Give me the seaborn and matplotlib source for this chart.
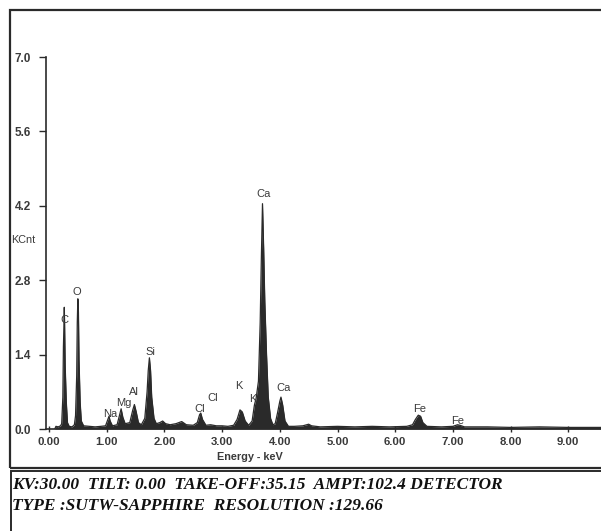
"""
EDS spectrum (KCnt vs Energy - keV) redrawn with seaborn / matplotlib.
"""

import matplotlib
matplotlib.use("Agg")
import matplotlib.pyplot as plt
import matplotlib.patches as mpatches
import seaborn as sns

sns.set_theme(style="white")
plt.rcParams["font.family"] = ["Liberation Sans", "DejaVu Sans"]

# ──────────────────────────────────────────────
# spectrum outline (keV, KCnt)
energy = [0.10, 0.12, 0.16, 0.20, 0.22, 0.24, 0.25, 0.26, 0.265, 0.27, 0.28,
          0.30, 0.32, 0.35, 0.40, 0.44, 0.46, 0.48, 0.49, 0.50, 0.51, 0.52,
          0.54, 0.56, 0.60, 0.70, 0.80, 0.90, 0.98, 1.02, 1.04, 1.06, 1.10,
          1.18, 1.22, 1.25, 1.28, 1.32, 1.40, 1.45, 1.48, 1.51, 1.55, 1.60,
          1.66, 1.70, 1.72, 1.74, 1.76, 1.78, 1.82, 1.86, 1.92, 1.97, 2.02,
          2.10, 2.20, 2.30, 2.38, 2.50, 2.57, 2.61, 2.63, 2.66, 2.72, 2.80,
          2.90, 3.00, 3.10, 3.20, 3.26, 3.31, 3.35, 3.40, 3.46, 3.52, 3.56,
          3.59, 3.63, 3.66, 3.68, 3.70, 3.72, 3.74, 3.77, 3.80, 3.84, 3.88,
          3.92, 3.96, 4.00, 4.02, 4.05, 4.09, 4.15, 4.25, 4.40, 4.50, 4.55,
          4.70, 5.00, 5.30, 5.60, 5.90, 6.20, 6.30, 6.35, 6.40, 6.44, 6.48,
          6.55, 6.80, 7.00, 7.08, 7.12, 7.20, 7.60, 8.00, 8.50, 9.00, 9.60]
counts = [0.00, 0.05, 0.04, 0.06, 0.10, 0.60, 1.55, 2.00, 2.29, 2.00, 1.20,
          0.50, 0.12, 0.05, 0.04, 0.08, 0.25, 1.00, 2.00, 2.45, 2.20, 1.30,
          0.50, 0.15, 0.06, 0.05, 0.04, 0.05, 0.06, 0.18, 0.24, 0.15, 0.06,
          0.08, 0.25, 0.38, 0.22, 0.10, 0.12, 0.35, 0.46, 0.33, 0.12, 0.08,
          0.20, 0.70, 1.10, 1.34, 1.10, 0.60, 0.20, 0.10, 0.12, 0.15, 0.10,
          0.08, 0.10, 0.14, 0.08, 0.07, 0.12, 0.27, 0.30, 0.18, 0.07, 0.08,
          0.06, 0.06, 0.05, 0.07, 0.18, 0.36, 0.32, 0.15, 0.07, 0.15, 0.45,
          0.58, 0.90, 2.00, 3.20, 4.24, 3.40, 2.40, 1.40, 0.60, 0.20, 0.08,
          0.10, 0.30, 0.52, 0.60, 0.45, 0.15, 0.05, 0.05, 0.06, 0.09, 0.06,
          0.04, 0.05, 0.04, 0.05, 0.04, 0.05, 0.08, 0.18, 0.26, 0.24, 0.12,
          0.05, 0.04, 0.05, 0.08, 0.07, 0.04, 0.04, 0.03, 0.04, 0.03, 0.03]

# element labels (text, keV, KCnt)
peak_names = ["C", "O", "Na", "Mg", "Al", "Si", "Cl", "Cl", "K", "K", "Ca", "Ca", "Fe", "Fe"]
peak_x     = [0.26, 0.49, 1.06, 1.30, 1.47, 1.75, 2.62, 2.83, 3.29, 3.53, 3.71, 4.06, 6.43, 7.09]
peak_y     = [2.06, 2.57, 0.28, 0.49, 0.70, 1.44, 0.38, 0.59, 0.81, 0.57, 4.42, 0.77, 0.38, 0.15]

y_ticks = [0.0, 1.4, 2.8, 4.2, 5.6, 7.0]
x_ticks = [0, 1, 2, 3, 4, 5, 6, 7, 8, 9]

info_lines = ["KV:30.00  TILT: 0.00  TAKE-OFF:35.15  AMPT:102.4 DETECTOR",
              "TYPE :SUTW-SAPPHIRE  RESOLUTION :129.66"]

INK = "#2a2a2a"
LABEL = "#3a3a3a"
W, H = 601, 531


def fx(px):
    return px / W


def fy(py):
    return 1 - py / H


# ──────────────────────────────────────────────
fig = plt.figure(figsize=(W / 100, H / 100), dpi=100)
fig.patch.set_facecolor("white")

# frames
fig.add_artist(mpatches.Rectangle((fx(10), fy(468)), 1.0, fy(10) - fy(468),
                                  transform=fig.transFigure, fill=False,
                                  edgecolor=INK, lw=1.6))
fig.add_artist(mpatches.Rectangle((fx(11), fy(540)), 1.0, fy(471) - fy(540),
                                  transform=fig.transFigure, fill=False,
                                  edgecolor=INK, lw=1.4))

ax = fig.add_axes([fx(46), fy(429), 1 - fx(46), fy(57) - fy(429)])
ax.set_facecolor("none")

ax.fill_between(energy, counts, 0, color=INK, lw=0)
sns.lineplot(x=energy, y=counts, ax=ax, color=INK, lw=0.9)

ax.set_xlim((46 - 49) / 57.7, (601 - 49) / 57.7)
ax.set_ylim(0, 7.0)

for name, x, y in zip(peak_names, peak_x, peak_y):
    ax.text(x, y, name, ha="center", va="center", fontsize=8, color=LABEL)

ax.set_yticks(y_ticks)
ax.set_yticklabels([f"{v:.1f}" for v in y_ticks], fontweight="bold")
ax.set_xticks(x_ticks)
ax.set_xticklabels([f"{v:.2f}" for v in x_ticks], fontweight="bold")
ax.tick_params(axis="y", direction="out", length=5, width=1.0, pad=6,
               labelsize=8.5, colors=INK, labelcolor=LABEL, left=True)
ax.tick_params(axis="x", direction="inout", length=5, width=1.0, pad=3,
               labelsize=8.2, colors=INK, labelcolor=LABEL, bottom=True)
ax.set_xlabel("")
ax.set_ylabel("")

for side in ["top", "right"]:
    ax.spines[side].set_visible(False)
for side in ["left", "bottom"]:
    ax.spines[side].set_color(INK)
    ax.spines[side].set_linewidth(1.2)

fig.text(fx(23), fy(240), "KCnt", ha="center", va="center", fontsize=7.8, color=LABEL)
fig.text(fx(250), fy(457), "Energy - keV", ha="center", va="center", fontsize=7.8,
         fontweight="bold", color=LABEL)

for i, line in enumerate(info_lines):
    fig.text(fx(12), fy(485 + 21 * i), line, ha="left", va="center",
             fontsize=12.5, style="italic", fontweight="bold",
             family=["Liberation Serif", "DejaVu Serif"], color="#111111")

fig.savefig("out.png", dpi=100, facecolor="white")
